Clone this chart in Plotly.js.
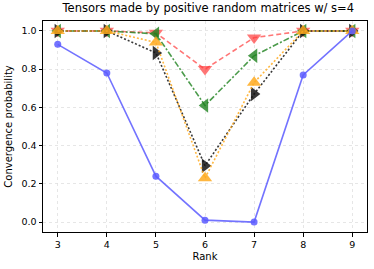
<!DOCTYPE html>
<html><head><meta charset="utf-8">
<script src="https://cdn.plot.ly/plotly-3.0.1.min.js"></script>
<style>html,body{margin:0;padding:0;background:#fff}#c{width:374px;height:269px}</style>
</head><body><div id="c"></div>
<script>
const ranks = [3, 4, 5, 6, 7, 8, 9];
const seriesBlue = [0.93, 0.78, 0.24, 0.01, 0.0, 0.77, 1.0];
const seriesRed = [1.0, 1.0, 0.99, 0.80, 0.965, 1.0, 1.0];
const seriesGreen = [1.0, 1.0, 0.985, 0.61, 0.87, 1.0, 1.0];
const seriesOrange = [1.0, 1.0, 0.94, 0.23, 0.73, 1.0, 1.0];
const seriesBlack = [1.0, 1.0, 0.885, 0.295, 0.67, 1.0, 1.0];
const yTicks = [0.0, 0.2, 0.4, 0.6, 0.8, 1.0];
const yTickText = ['0.0', '0.2', '0.4', '0.6', '0.8', '1.0'];

function tr(y, color, dash, symbol, size) {
  return {x: ranks, y: y, type: 'scatter', mode: 'lines+markers',
    line: {color: color, dash: dash, width: 1.6},
    marker: {color: color, symbol: symbol, size: size, line: {width: 0}},
    showlegend: false, cliponaxis: false};
}
const data = [
  tr(seriesRed, 'rgba(255,60,60,0.7)', '5px,3px', 'triangle-down', 12.5),
  tr(seriesGreen, 'rgba(30,130,30,0.8)', '6px,2px,2px,2px', 'triangle-left', 12.5),
  tr(seriesBlack, 'rgba(20,20,20,0.85)', '2px,2px', 'triangle-right', 12.5),
  tr(seriesOrange, 'rgba(255,170,30,0.85)', '2px,2px', 'triangle-up', 12.5),
  tr(seriesBlue, 'rgba(90,90,255,0.85)', 'solid', 'circle', 7)
];
const font = {family: 'DejaVu Sans', color: '#000'};
const layout = {
  width: 374, height: 269,
  margin: {l: 43, r: 7, t: 21, b: 37},
  paper_bgcolor: '#fff', plot_bgcolor: '#fff',
  title: {text: 'Tensors made by positive random matrices w/ s=4', font: {family: 'DejaVu Sans', size: 11.5, color: '#000'}, x: 0.557, xanchor: 'center', y: 0.985, yanchor: 'top'},
  xaxis: {range: [2.7, 9.3], tickvals: ranks, ticktext: ranks.map(String), ticks: 'outside', ticklen: 3.5, tickcolor: '#000',
    showline: true, mirror: true, linecolor: '#000', linewidth: 1, zeroline: false,
    showgrid: true, gridcolor: '#e0e0e0', griddash: '3px,3px', gridwidth: 0.8,
    tickfont: {family: 'DejaVu Sans', size: 9.5, color: '#000'},
    title: {text: 'Rank', font: {family: 'DejaVu Sans', size: 10, color: '#000'}, standoff: 4}},
  yaxis: {range: [-0.052, 1.052], tickvals: yTicks, ticktext: yTickText, ticks: 'outside', ticklen: 3.5, tickcolor: '#000',
    showline: true, mirror: true, linecolor: '#000', linewidth: 1, zeroline: false,
    showgrid: true, gridcolor: '#e0e0e0', griddash: '3px,3px', gridwidth: 0.8,
    tickfont: {family: 'DejaVu Sans', size: 9.5, color: '#000'},
    title: {text: 'Convergence probability', font: {family: 'DejaVu Sans', size: 10, color: '#000'}, standoff: 6}},
  font: font
};
Plotly.newPlot('c', data, layout, {staticPlot: true, displayModeBar: false});
</script></body></html>
